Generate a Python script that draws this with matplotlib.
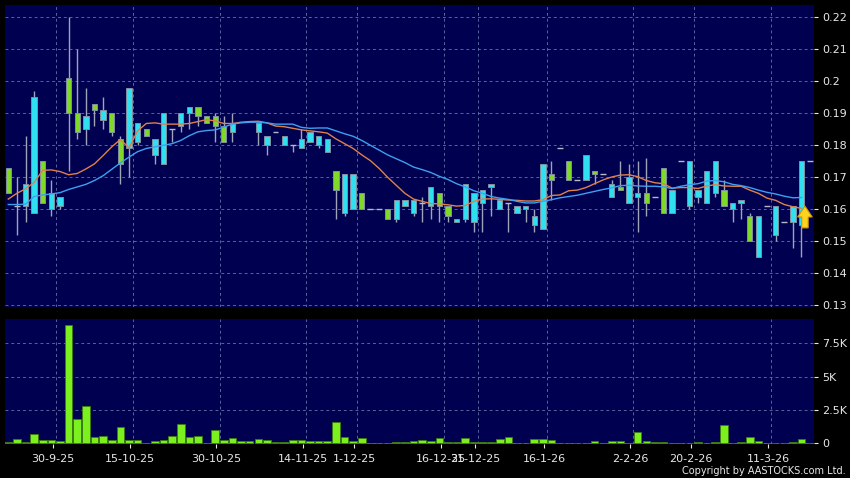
import numpy as np
import matplotlib
matplotlib.use('Agg')
import matplotlib.pyplot as plt
from matplotlib.patches import FancyArrow
from matplotlib.ticker import FuncFormatter

nan = np.nan

# daily candles, one slot per trading session shown on the chart
opens = [0.173, 0.161, 0.161, 0.159, 0.175, 0.160, 0.161, 0.201, 0.190, 0.185,
         0.193, 0.188, 0.190, 0.182, 0.179, 0.181, 0.185, 0.177, 0.174, 0.185,
         0.186, 0.190, 0.192, 0.189, 0.189, 0.186, 0.184, nan, nan, 0.184,
         0.180, 0.184, 0.180, 0.180, 0.179, 0.181, 0.180, 0.178, 0.172, 0.159,
         0.160, 0.165, 0.160, 0.160, 0.160, 0.157, 0.161, 0.159, 0.162, 0.161,
         0.165, 0.161, 0.156, 0.157, 0.156, 0.162, 0.167, 0.160, 0.162, 0.159,
         0.160, 0.155, 0.154, 0.171, 0.179, 0.175, 0.169, 0.169, 0.172, 0.171,
         0.164, 0.167, 0.162, 0.164, 0.165, 0.164, 0.173, 0.159, 0.175, 0.161,
         0.164, 0.162, 0.165, 0.166, 0.160, 0.162, 0.158, 0.145, 0.161, 0.152,
         0.156, 0.156, 0.155, 0.175]
highs = [0.173, 0.170, 0.183, 0.197, 0.175, 0.169, 0.164, 0.220, 0.210, 0.198,
         0.193, 0.195, 0.190, 0.183, 0.198, 0.187, 0.185, 0.182, 0.190, 0.185,
         0.190, 0.192, 0.192, 0.189, 0.190, 0.189, 0.190, nan, nan, 0.187,
         0.183, 0.184, 0.183, 0.180, 0.185, 0.184, 0.183, 0.182, 0.172, 0.171,
         0.171, 0.165, 0.160, 0.160, 0.160, 0.163, 0.163, 0.163, 0.164, 0.167,
         0.165, 0.161, 0.157, 0.168, 0.165, 0.166, 0.168, 0.163, 0.162, 0.161,
         0.161, 0.160, 0.174, 0.175, 0.179, 0.175, 0.169, 0.177, 0.172, 0.171,
         0.169, 0.175, 0.174, 0.175, 0.176, 0.164, 0.173, 0.166, 0.175, 0.175,
         0.166, 0.172, 0.175, 0.169, 0.162, 0.163, 0.159, 0.158, 0.161, 0.161,
         0.156, 0.161, 0.175, 0.175]
lows = [0.165, 0.152, 0.156, 0.159, 0.162, 0.158, 0.160, 0.172, 0.182, 0.180,
        0.186, 0.185, 0.183, 0.168, 0.170, 0.180, 0.183, 0.174, 0.174, 0.181,
        0.184, 0.185, 0.186, 0.187, 0.181, 0.181, 0.181, nan, nan, 0.180,
        0.177, 0.184, 0.180, 0.178, 0.179, 0.181, 0.179, 0.178, 0.157, 0.158,
        0.160, 0.160, 0.160, 0.160, 0.157, 0.156, 0.161, 0.158, 0.156, 0.157,
        0.156, 0.156, 0.156, 0.156, 0.153, 0.153, 0.158, 0.160, 0.153, 0.159,
        0.156, 0.153, 0.154, 0.163, 0.179, 0.169, 0.169, 0.169, 0.168, 0.171,
        0.164, 0.166, 0.162, 0.153, 0.158, 0.164, 0.159, 0.159, 0.175, 0.160,
        0.162, 0.162, 0.164, 0.161, 0.156, 0.157, 0.150, 0.145, 0.161, 0.150,
        0.156, 0.148, 0.145, 0.175]
closes = [0.165, 0.161, 0.168, 0.195, 0.162, 0.165, 0.164, 0.190, 0.184, 0.189,
          0.191, 0.191, 0.184, 0.174, 0.198, 0.187, 0.183, 0.182, 0.190, 0.185,
          0.190, 0.192, 0.189, 0.187, 0.186, 0.181, 0.187, nan, nan, 0.187,
          0.183, 0.184, 0.183, 0.180, 0.182, 0.184, 0.183, 0.182, 0.166, 0.171,
          0.171, 0.160, 0.160, 0.160, 0.157, 0.163, 0.163, 0.163, 0.162, 0.167,
          0.161, 0.158, 0.157, 0.168, 0.165, 0.166, 0.168, 0.163, 0.162, 0.161,
          0.161, 0.158, 0.174, 0.169, 0.179, 0.169, 0.169, 0.177, 0.171, 0.171,
          0.168, 0.166, 0.170, 0.165, 0.162, 0.164, 0.159, 0.166, 0.175, 0.175,
          0.166, 0.172, 0.175, 0.161, 0.162, 0.163, 0.150, 0.158, 0.161, 0.161,
          0.156, 0.161, 0.175, 0.175]
# volume in thousands of shares
volume_k = [0.12, 0.33, 0.10, 0.68, 0.25, 0.25, 0.15, 8.90, 1.80, 2.80,
            0.50, 0.58, 0.25, 1.23, 0.25, 0.25, 0.03, 0.18, 0.22, 0.58,
            1.43, 0.45, 0.55, 0.05, 1.00, 0.22, 0.38, 0.18, 0.18, 0.33,
            0.25, 0.08, 0.12, 0.22, 0.28, 0.18, 0.18, 0.18, 1.63, 0.50,
            0.20, 0.38, 0.02, 0.02, 0.05, 0.08, 0.10, 0.20, 0.25, 0.18,
            0.38, 0.10, 0.08, 0.40, 0.08, 0.08, 0.08, 0.30, 0.48, 0.02,
            0.05, 0.33, 0.33, 0.22, 0.00, 0.02, 0.00, 0.02, 0.18, 0.02,
            0.15, 0.18, 0.02, 0.88, 0.18, 0.08, 0.08, 0.02, 0.00, 0.02,
            0.08, 0.02, 0.12, 1.38, 0.05, 0.12, 0.50, 0.18, 0.00, 0.05,
            0.02, 0.08, 0.30, 0.00]
# moving averages as drawn (orange = short, blue = long)
ma_short = [0.1632, 0.1650, 0.1664, 0.1684, 0.1722, 0.1723, 0.1718, 0.1708, 0.1712, 0.1726,
            0.1742, 0.1768, 0.1795, 0.1818, 0.1792, 0.1845, 0.1868, 0.1870, 0.1866, 0.1866,
            0.1866, 0.1868, 0.1874, 0.1880, 0.1876, 0.1868, 0.1868, 0.1872, 0.1874, 0.1875,
            0.1870, 0.1860, 0.1858, 0.1853, 0.1848, 0.1845, 0.1842, 0.1838, 0.1820, 0.1805,
            0.1790, 0.1770, 0.1752, 0.1728, 0.1700, 0.1675, 0.1650, 0.1632, 0.1625, 0.1618,
            0.1617, 0.1614, 0.1610, 0.1612, 0.1625, 0.1632, 0.1633, 0.1631, 0.1629, 0.1628,
            0.1626, 0.1626, 0.1630, 0.1643, 0.1645, 0.1658, 0.1660, 0.1668, 0.1680, 0.1692,
            0.1701, 0.1707, 0.1708, 0.1702, 0.1690, 0.1683, 0.1680, 0.1666, 0.1668, 0.1668,
            0.1665, 0.1673, 0.1677, 0.1673, 0.1672, 0.1672, 0.1660, 0.1650, 0.1635, 0.1628,
            0.1615, 0.1608, 0.1603]
ma_long = [0.1615, 0.1615, 0.1616, 0.1640, 0.1645, 0.1648, 0.1652, 0.1662, 0.1670, 0.1678,
           0.1690, 0.1705, 0.1725, 0.1745, 0.1763, 0.1780, 0.1790, 0.1795, 0.1800, 0.1805,
           0.1815, 0.1830, 0.1842, 0.1846, 0.1848, 0.1857, 0.1866, 0.1870, 0.1872, 0.1872,
           0.1870, 0.1866, 0.1866, 0.1866, 0.1856, 0.1853, 0.1854, 0.1854, 0.1845, 0.1836,
           0.1828, 0.1815, 0.1800, 0.1785, 0.1770, 0.1758, 0.1746, 0.1732, 0.1724, 0.1715,
           0.1703, 0.1693, 0.1680, 0.1670, 0.1658, 0.1650, 0.1640, 0.1635, 0.1631, 0.1625,
           0.1620, 0.1620, 0.1625, 0.1630, 0.1636, 0.1640, 0.1644, 0.1650, 0.1656, 0.1662,
           0.1667, 0.1674, 0.1675, 0.1673, 0.1672, 0.1672, 0.1670, 0.1665, 0.1672, 0.1677,
           0.1680, 0.1688, 0.1690, 0.1686, 0.1678, 0.1674, 0.1668, 0.1660, 0.1653, 0.1648,
           0.1641, 0.1636, 0.1637]
date_labels = ['30-9-25', '15-10-25', '30-10-25', '14-11-25', '1-12-25', '16-12-25',
               '31-12-25', '16-1-26', '2-2-26', '20-2-26', '11-3-26']
date_slots = [5, 14, 24, 34, 40, 50, 54, 62, 72, 79, 88]
marker_price = 0.161  # yellow arrow tip on the last session

BG = '#000050'
GRID = '#56649c'
TXT = '#e8e8e8'
CYAN = '#30e0f0'
GREEN = '#80d828'

o = np.array(opens)
h = np.array(highs)
l = np.array(lows)
c = np.array(closes)
n = len(o)
idx = np.arange(n)

fig = plt.figure(figsize=(8.5, 4.78), dpi=100, facecolor='black')
ax = fig.add_axes([5 / 850, 1 - 307 / 478, 809 / 850, 302 / 478], facecolor=BG)
axv = fig.add_axes([5 / 850, 1 - 444 / 478, 809 / 850, 125 / 478], facecolor=BG)

for a in (ax, axv):
    a.set_xlim(-0.38, 93.45)
    for s in a.spines.values():
        s.set_visible(False)
    for k in date_slots:
        a.axvline(k + 0.5, color=GRID, lw=0.7, ls=(0, (3, 3)), zorder=0)
    a.yaxis.tick_right()
    a.tick_params(axis='y', colors=TXT, labelsize=8, length=3, width=0.8,
                  pad=3, direction='out')
    a.grid(axis='y', color=GRID, lw=0.7, ls=(0, (3, 3)), zorder=0)
    a.set_axisbelow(True)

# price panel
ax.set_ylim(0.1295, 0.2238)
ax.set_yticks(np.arange(0.13, 0.2201, 0.01))
ax.yaxis.set_major_formatter(FuncFormatter(lambda v, p: '%g' % round(v, 2)))
ax.tick_params(axis='x', bottom=False, labelbottom=False)

ok = ~np.isnan(o)
up = ok & (c > o)
down = ok & (c < o)
flat = ok & (c == o)

ax.vlines(idx[ok], l[ok], h[ok], color='#a0a4b8', lw=1, zorder=2)
ax.bar(idx[up], (c - o)[up], bottom=o[up], width=0.62, color=CYAN,
       edgecolor='#8090a0', lw=0.7, zorder=3)
ax.bar(idx[down], (o - c)[down], bottom=c[down], width=0.62, color=GREEN,
       edgecolor='#8090a0', lw=0.7, zorder=3)
ax.hlines(o[flat], idx[flat] - 0.34, idx[flat] + 0.34, color='#b4b8c8', lw=1, zorder=3)

ax.plot(np.arange(len(ma_short)), ma_short, color='#e0804a', lw=1, zorder=4)
ax.plot(np.arange(len(ma_long)), ma_long, color='#3ea0f0', lw=1, zorder=4)

# last price marker
last = len(ma_short) - 1
ax.add_patch(FancyArrow(last + 0.4, marker_price - 0.0068, 0, 0.0068,
                        width=0.75, head_width=1.7, head_length=0.0034,
                        length_includes_head=True, facecolor='#ffd21e',
                        edgecolor='#c89410', lw=0.8, zorder=5))

# volume panel
axv.set_ylim(-0.05, 9.32)
axv.set_yticks([0, 2.5, 5, 7.5])
axv.yaxis.set_major_formatter(FuncFormatter(lambda v, p: '0' if v == 0 else '%gK' % v))
axv.bar(idx, volume_k, width=0.88, color='#7cf01e', edgecolor='#3c7a12', lw=0.6, zorder=2)
axv.set_xticks([k + 0.15 for k in date_slots])
axv.set_xticklabels(date_labels)
axv.tick_params(axis='x', colors=TXT, labelsize=8, length=3, width=0.8, pad=4)

fig.text(0.995, 0.005, 'Copyright by AASTOCKS.com Ltd.', color=TXT, fontsize=7,
         ha='right', va='bottom')

fig.savefig('out.png', dpi=100, facecolor='black')
